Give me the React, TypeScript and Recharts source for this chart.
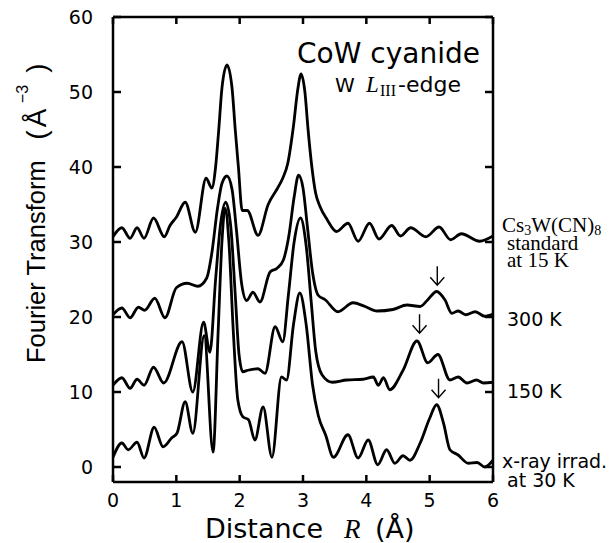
import React from 'react';
import { LineChart, Line, XAxis, YAxis, ReferenceDot } from 'recharts';

// [R (Å), FT magnitude] pairs
const standard15K: [number, number][] = [
  [0, 30.7], [0.14, 31.9], [0.27, 30.5], [0.38, 31.9], [0.49, 30.5], [0.64, 33.2], [0.81, 30.7],
  [0.9, 32.2], [1.0, 33.3], [1.14, 35.3], [1.3, 31.3], [1.47, 38.5], [1.56, 37.2], [1.62, 40],
  [1.67, 45], [1.72, 50.5], [1.8, 53.6], [1.88, 50.5], [1.93, 45], [1.98, 40], [2.04, 34.2],
  [2.12, 34.2], [2.29, 30.9], [2.45, 35], [2.6, 37.2], [2.68, 38.5], [2.76, 40.5], [2.85, 45.5],
  [2.92, 50.5], [2.97, 52.4], [3.03, 50], [3.08, 45], [3.14, 40], [3.2, 36.5], [3.27, 34.7],
  [3.38, 33], [3.53, 31.4], [3.71, 32.5], [3.87, 30.1], [4.05, 32.5], [4.2, 30.4], [4.4, 32.2],
  [4.54, 30.8], [4.7, 31.9], [4.94, 30.7], [5.15, 32], [5.33, 30.3], [5.5, 31.1], [5.79, 30.1],
  [6.0, 30.8],
];
const k300: [number, number][] = [
  [0, 20.3], [0.14, 21.2], [0.27, 19.9], [0.4, 21.3], [0.5, 20.9], [0.66, 22.5], [0.82, 19.9],
  [1.0, 23.9], [1.17, 24.5], [1.34, 24.1], [1.48, 25.2], [1.56, 28.5], [1.65, 34.5], [1.72, 37.8],
  [1.8, 38.8], [1.88, 37], [1.95, 31.5], [2.03, 24.5], [2.11, 22.2], [2.21, 23.3], [2.32, 22],
  [2.48, 26], [2.59, 26.5], [2.69, 27.6], [2.78, 31], [2.86, 36], [2.93, 38.9], [3.0, 37.2],
  [3.07, 32], [3.15, 26], [3.24, 22.9], [3.35, 22.3], [3.55, 20.7], [3.79, 21.9], [3.98, 21.4],
  [4.17, 20.8], [4.42, 21.0], [4.64, 21.6], [4.85, 21.4], [4.96, 22.2], [5.11, 23.4], [5.24, 22.3],
  [5.35, 20.5], [5.45, 20.8], [5.57, 20.3], [5.72, 20.7], [5.87, 20.1], [6.0, 20.4],
];
const k150: [number, number][] = [
  [0, 10.9], [0.14, 11.9], [0.27, 10.5], [0.38, 11.7], [0.49, 10.9], [0.64, 13.3], [0.8, 11.2],
  [1.09, 16.7], [1.26, 10.0], [1.43, 19.3], [1.53, 15.3], [1.62, 25], [1.7, 32.5], [1.78, 35.3],
  [1.86, 32], [1.93, 23], [1.99, 15], [2.05, 12.7], [2.13, 12.9], [2.29, 13.1], [2.4, 12.5],
  [2.56, 18.7], [2.68, 16.7], [2.77, 23], [2.86, 30], [2.96, 33.2], [3.05, 29.5], [3.13, 22],
  [3.2, 15.5], [3.3, 12.3], [3.46, 11.3], [3.69, 11.6], [3.95, 11.7], [4.11, 12], [4.19, 10.9],
  [4.27, 11.9], [4.37, 10.3], [4.58, 12.9], [4.8, 16.8], [4.97, 13.9], [5.13, 15.0], [5.32, 11.6],
  [5.45, 12.0], [5.59, 11.2], [5.74, 11.6], [5.85, 11.2], [6.0, 11.3],
];
const xray30K: [number, number][] = [
  [0, 1.3], [0.14, 3.2], [0.24, 2.3], [0.38, 3.3], [0.49, 1.2], [0.65, 5.3], [0.79, 2.7],
  [0.93, 3.9], [1.01, 4.5], [1.14, 8.7], [1.26, 4.5], [1.44, 17.5], [1.58, 2.0], [1.66, 18],
  [1.72, 30], [1.77, 34.5], [1.83, 30], [1.9, 18], [1.97, 9], [2.05, 6.7], [2.14, 6.3],
  [2.24, 3.6], [2.37, 8.0], [2.51, 1.3], [2.66, 12], [2.74, 11.6], [2.85, 19], [2.95, 23.2],
  [3.05, 19], [3.15, 11], [3.24, 6.9], [3.36, 4.2], [3.48, 1.3], [3.71, 4.3], [3.87, 1.2],
  [4.03, 3.6], [4.18, 0.3], [4.32, 2.3], [4.45, 0.5], [4.58, 1.5], [4.69, 0.9], [4.85, 3.2],
  [5.0, 6.5], [5.11, 8.3], [5.22, 5.8], [5.32, 2.3], [5.45, 1.6], [5.61, 0.5], [5.75, 0.6],
  [5.87, 0.0], [6.0, 0.9],
];

const xTicks = [0, 1, 2, 3, 4, 5, 6];
const yTicks = [0, 10, 20, 30, 40, 50, 60];
const arrows: [number, number][] = [[5.12, 25.5], [4.84, 19.1], [5.14, 10.5]];

const toRows = (pts: [number, number][]) => pts.map(([r, v]) => ({ r, v }));
const series = [standard15K, k300, k150, xray30K].map(toRows);

const TICK_FONT = 'DejaVu Sans';
const AX = { stroke: '#000', strokeWidth: 2.5 };

const BottomTick = (p: any) => (
  <g>
    <line x1={p.x} x2={p.x} y1={p.y} y2={p.y - 7} stroke="#000" strokeWidth={2.5} />
    <text x={p.x} y={p.y + 25} textAnchor="middle" fontFamily={TICK_FONT} fontSize={19} fill="#000">
      {p.payload.value}
    </text>
  </g>
);
const TopTick = (p: any) => (
  <line x1={p.x} x2={p.x} y1={p.y} y2={p.y + 7} stroke="#000" strokeWidth={2.5} />
);
const LeftTick = (p: any) => (
  <g>
    <line x1={p.x} x2={p.x + 8} y1={p.y} y2={p.y} stroke="#000" strokeWidth={2.5} />
    <text x={p.x - 20} y={p.y + 7} textAnchor="end" fontFamily={TICK_FONT} fontSize={19} fill="#000">
      {p.payload.value}
    </text>
  </g>
);
const RightTick = (p: any) => (
  <line x1={p.x} x2={p.x - 8} y1={p.y} y2={p.y} stroke="#000" strokeWidth={2.5} />
);
const ArrowShape = (p: any) => {
  const { cx, cy } = p;
  return (
    <path
      d={`M${cx},${cy - 9.5} L${cx},${cy + 9.5} M${cx - 7},${cy + 1.5} L${cx},${cy + 9.5} L${cx + 7},${cy + 1.5}`}
      stroke="#000"
      strokeWidth={1.4}
      fill="none"
    />
  );
};

export default function App() {
  return (
    <div style={{ position: 'absolute', left: 0, top: 0, width: 611, height: 543, background: '#fff' }}>
      <LineChart width={611} height={543} margin={{ top: 0, right: 0, bottom: 0, left: 0 }}>
        <XAxis
          dataKey="r"
          type="number"
          domain={[0, 6]}
          ticks={xTicks}
          allowDataOverflow
          height={61}
          tickSize={0}
          tickMargin={0}
          axisLine={AX}
          tickLine={false}
          tick={BottomTick}
        />
        <XAxis
          xAxisId="top"
          orientation="top"
          dataKey="r"
          type="number"
          domain={[0, 6]}
          ticks={xTicks}
          allowDataOverflow
          height={17}
          tickSize={0}
          tickMargin={0}
          axisLine={AX}
          tickLine={false}
          tick={TopTick}
        />
        <YAxis
          type="number"
          domain={[-2, 60]}
          ticks={yTicks}
          allowDataOverflow
          width={113}
          tickSize={0}
          tickMargin={0}
          axisLine={AX}
          tickLine={false}
          tick={LeftTick}
        />
        <YAxis
          yAxisId="right"
          orientation="right"
          type="number"
          domain={[-2, 60]}
          ticks={yTicks}
          allowDataOverflow
          width={118}
          tickSize={0}
          tickMargin={0}
          axisLine={AX}
          tickLine={false}
          tick={RightTick}
        />
        {series.map((d, i) => (
          <Line
            key={i}
            data={d}
            dataKey="v"
            type="monotone"
            stroke="#000"
            strokeWidth={2.8}
            dot={false}
            isAnimationActive={false}
          />
        ))}
        {arrows.map(([r, v], i) => (
          <ReferenceDot key={i} x={r} y={v} r={0} ifOverflow="visible" shape={ArrowShape} />
        ))}
      </LineChart>
      <svg width={611} height={543} style={{ position: 'absolute', left: 0, top: 0, pointerEvents: 'none' }}>
        <text x={297} y={63} fontFamily="DejaVu Sans" fontSize={28} fill="#000">CoW cyanide</text>
        <text x={335} y={92} fontFamily="DejaVu Sans" fontSize={20} fill="#000">W</text>
        <text x={366} y={92} fontFamily="Liberation Serif" fontStyle="italic" fontSize={23} fill="#000">L</text>
        <text x={380} y={96} fontFamily="Liberation Serif" fontSize={16} fill="#000">III</text>
        <text x={398} y={92} fontFamily="DejaVu Sans" fontSize={22} fill="#000">-edge</text>

        <g fontFamily="Liberation Sans" fill="#000">
          <text transform="translate(45,363) rotate(-90)" textAnchor="start" fontSize={25.5}>Fourier Transform</text>
          <text transform="translate(46,135) rotate(-90)" textAnchor="middle" fontSize={28}>(</text>
          <text transform="translate(46,118) rotate(-90)" textAnchor="middle" fontSize={28}>Å</text>
          <text transform="translate(28,94) rotate(-90)" textAnchor="middle" fontSize={16}>−3</text>
          <text transform="translate(46,68) rotate(-90)" textAnchor="middle" fontSize={28}>)</text>
        </g>

        <text x={205} y={538} fontFamily="DejaVu Sans" fontSize={27} fill="#000">Distance</text>
        <text x={344} y={538} fontFamily="Liberation Serif" fontStyle="italic" fontSize={27} fill="#000">R</text>
        <text x={375} y={538} fontFamily="DejaVu Sans" fontSize={27} fill="#000">(Å)</text>

        <text x={502} y={232} fontFamily="Liberation Serif" fontSize={21} fill="#000">
          Cs<tspan fontSize={14} dy={3}>3</tspan>
          <tspan dy={-3}>W(CN)</tspan>
          <tspan fontSize={14} dy={3}>8</tspan>
        </text>
        <text x={507} y={250} fontFamily="Liberation Serif" fontSize={21} fill="#000">standard</text>
        <text x={507} y={267} fontFamily="Liberation Serif" fontSize={21} fill="#000">at 15 K</text>
        <g fontFamily="DejaVu Sans" fontSize={19} fill="#000">
          <text x={507} y={326}>300 K</text>
          <text x={507} y={398}>150 K</text>
          <text x={502} y={468}>x-ray irrad.</text>
          <text x={507} y={487}>at 30 K</text>
        </g>
      </svg>
    </div>
  );
}
